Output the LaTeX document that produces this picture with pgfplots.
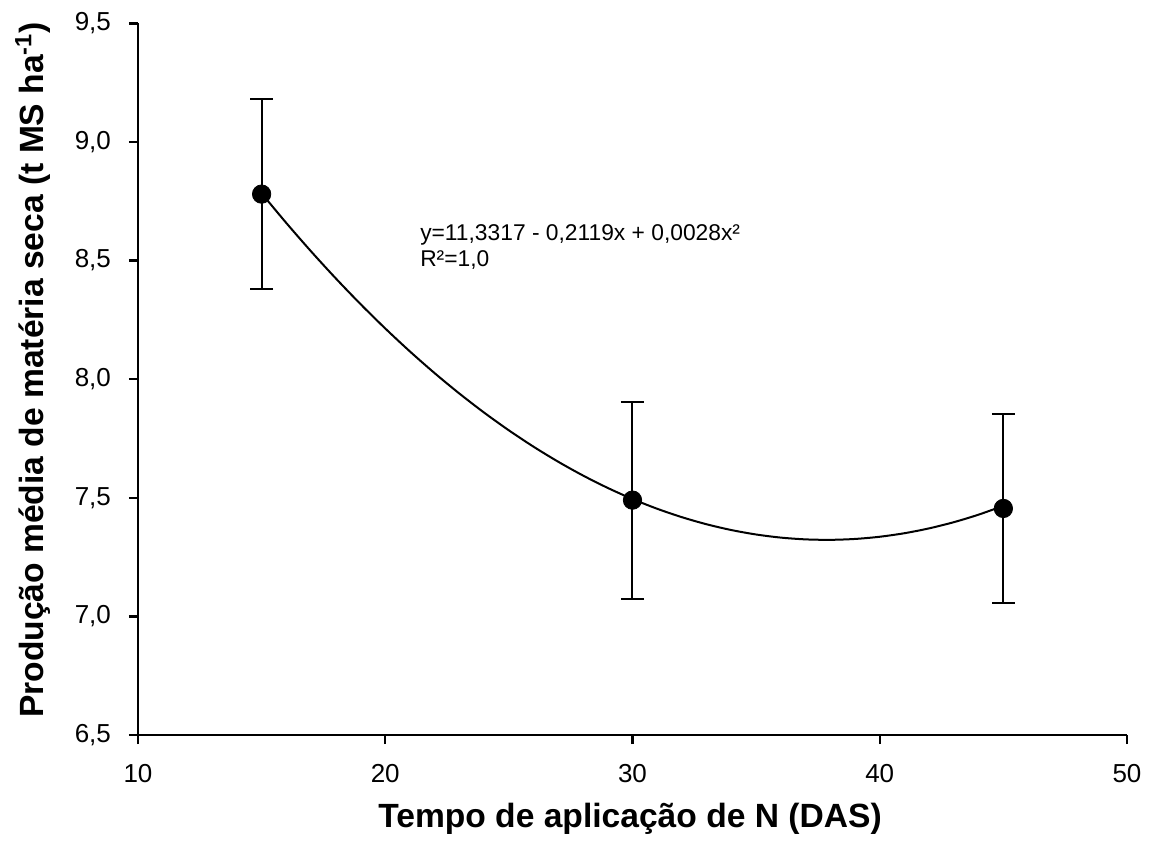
\documentclass[border=0pt]{standalone}
\usepackage{fontspec}
\setmainfont{Liberation Sans}
\usepackage{pgfplots}
\pgfplotsset{compat=1.18}

\begin{document}
\begin{tikzpicture}
% fixed page frame around the axis box
\path[use as bounding box] (-69pt,-58.5pt) rectangle (507.5pt,367.5pt);
\begin{axis}[
  at={(0,0)}, anchor=south west,
  scale only axis,
  width=494.5pt, height=355.85pt,
  xmin=10, xmax=50, ymin=6.5, ymax=9.5,
  xtick={10,20,30,40,50},
  ytick={6.5,7,7.5,8,8.5,9,9.5},
  axis x line*=bottom, axis y line*=left,
  axis line style={line width=1.4pt, -},
  tick style={line width=1.2pt, black},
  tick align=outside,
  major tick length=4.5pt,
  /pgf/number format/assume math mode=true,
  tick label style={font=\fontsize{13}{15}\selectfont},
  yticklabel style={xshift=-5.5pt, /pgf/number format/.cd, use comma, fixed, fixed zerofill, precision=1},
  xticklabel style={yshift=-6.5pt, /pgf/number format/.cd, fixed, precision=0},
  xlabel={\bfseries Tempo de aplicação de N (DAS)},
  ylabel={\bfseries Produção média de matéria seca (t MS ha\textsuperscript{-1})},
  xlabel style={font=\fontsize{16.8}{19}\selectfont, at={(axis description cs:0.4975,-0.1293)}, anchor=base},
  ylabel style={font=\fontsize{16.8}{19}\selectfont, at={(axis description cs:-0.1062,0.513)}, anchor=center, rotate=0},
  clip=false,
]
% quadratic fit y = 11.3317 - 0.2119x + 0.0028x^2, tabulated
\addplot[line width=1pt, smooth, no marks] coordinates {
  (15,8.7832) (16,8.6581) (17,8.5386) (18,8.4247) (19,8.3164) (20,8.2137)
  (21,8.1166) (22,8.0251) (23,7.9392) (24,7.8589) (25,7.7842) (26,7.7151)
  (27,7.6516) (28,7.5937) (29,7.5414) (30,7.4947) (31,7.4536) (32,7.4181)
  (33,7.3882) (34,7.3639) (35,7.3452) (36,7.3321) (37,7.3246) (38,7.3227)
  (39,7.3264) (40,7.3357) (41,7.3506) (42,7.3711) (43,7.3972) (44,7.4289)
  (45,7.4662)
};
% observed means with error bars
\addplot[only marks, mark=*, mark size=4.6pt, black,
  error bars/.cd, y dir=both, y explicit,
  error bar style={line width=1pt, black},
  error mark options={rotate=90, mark size=5.8pt, line width=1pt, black}]
  coordinates {
  (15,8.78) +- (0,0.40)
  (30,7.49) +- (0,0.415)
  (45,7.455) +- (0,0.40)
};
\node[anchor=base west, align=left, font=\fontsize{11.4}{13.2}\selectfont, inner sep=0pt]
  at (axis cs:21.4,8.473) {y=11,3317 - 0,2119x + 0,0028x²\\R²=1,0};
\end{axis}
\end{tikzpicture}
\end{document}
